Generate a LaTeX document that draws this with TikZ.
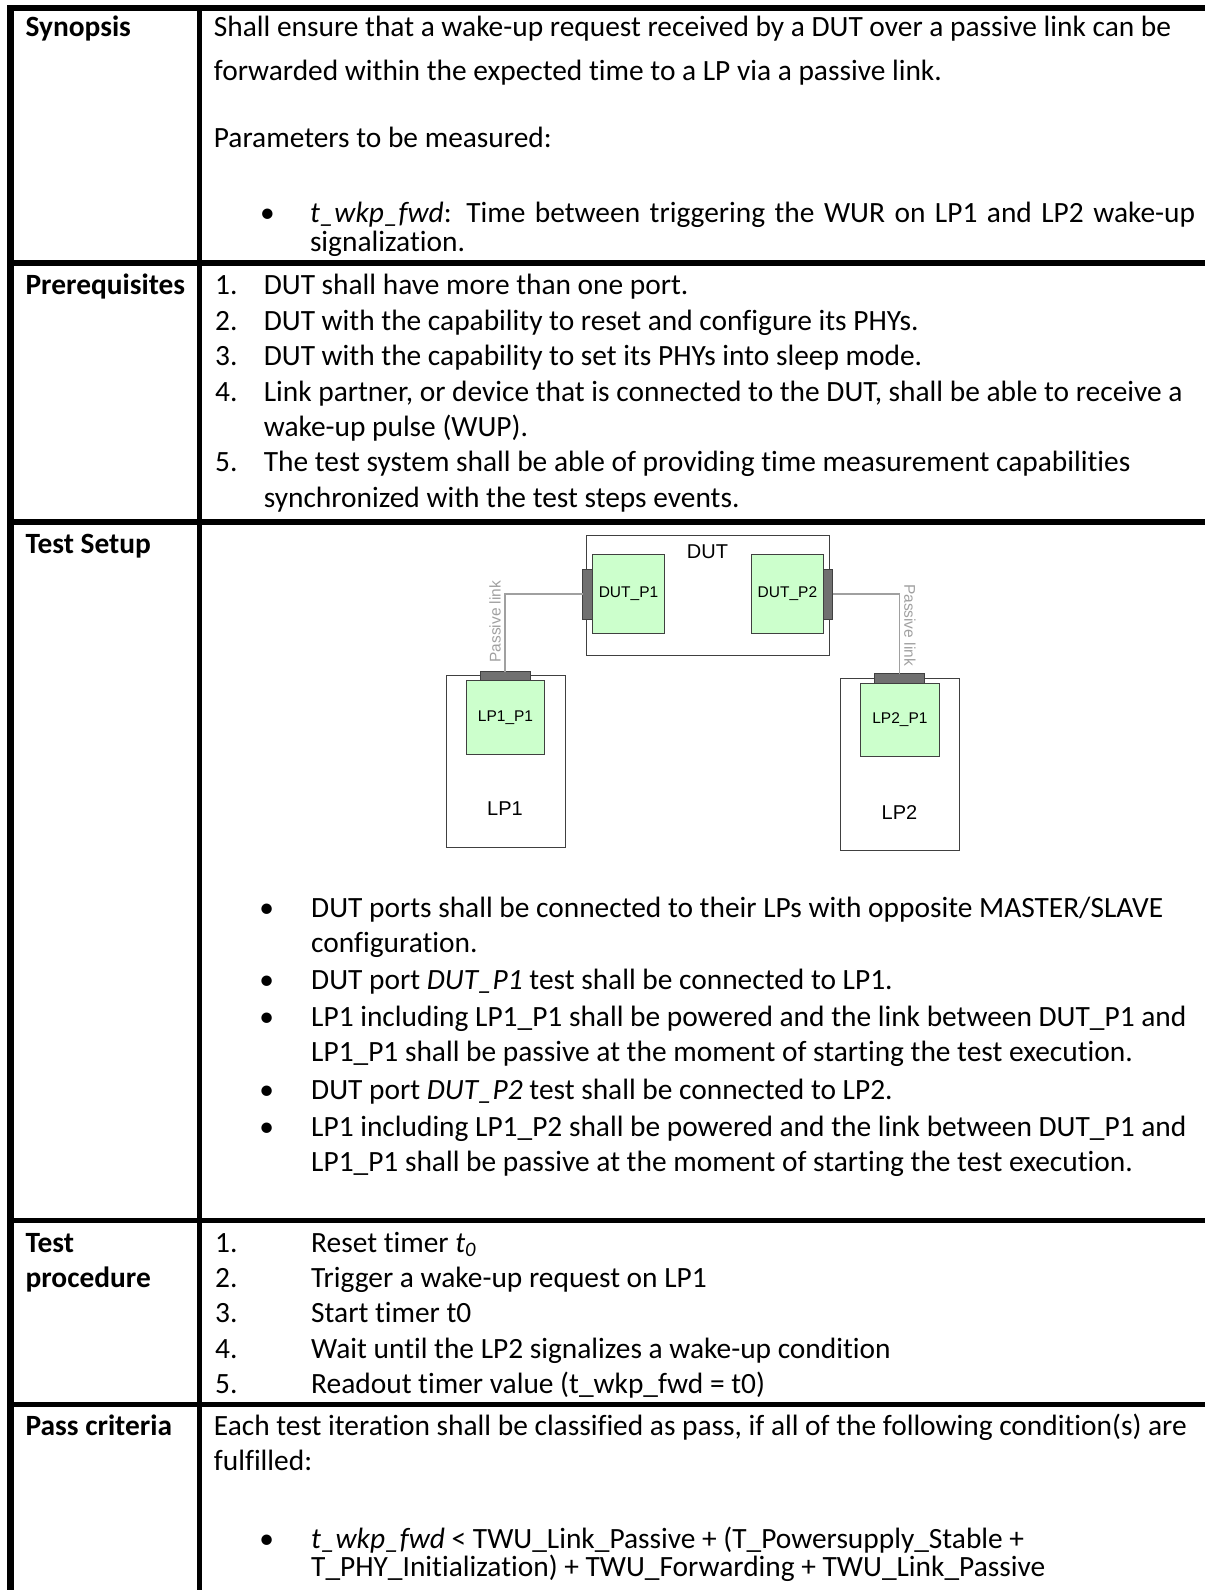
\documentclass[tikz,border=0pt]{standalone}
\usepackage{fontspec}
\setmainfont[Ligatures={NoCommon}]{Carlito}
\newfontfamily\diagfont{Liberation Sans}

\definecolor{portgreen}{HTML}{CCFFCC}
\definecolor{plugfill}{HTML}{707070}
\definecolor{linkgray}{HTML}{A0A0A0}
\definecolor{edgegray}{HTML}{404040}

\tikzset{
  rule/.style={line width=5.5pt},
  txt/.style={anchor=base west,inner sep=0pt,font=\fontsize{29.4}{35}\selectfont},
  rowhead/.style={txt,font=\fontsize{29.4}{35}\selectfont\bfseries},
  bul/.style={anchor=base,inner sep=0pt,font=\fontsize{29.4}{35}\selectfont},
  devbox/.style={draw=edgegray,line width=1pt,fill=white,inner sep=0pt,outer sep=0pt},
  portbox/.style={devbox,fill=portgreen,font=\diagfont\fontsize{15.5}{18}\selectfont},
  plug/.style={draw=edgegray,line width=1pt,fill=plugfill,inner sep=0pt,outer sep=0pt},
  link/.style={draw=linkgray,line width=1.5pt},
  linklbl/.style={text=linkgray,font=\diagfont\fontsize{15.5}{18}\selectfont,inner sep=0pt},
  devlbl/.style={font=\diagfont\fontsize{20}{24}\selectfont,inner sep=0pt}
}

\begin{document}
\begin{tikzpicture}[x=1pt,y=-1pt]
\useasboundingbox (0,0) rectangle (1205,1590);

% table rules
\draw[rule,line width=6.5pt] (10.7,5) -- (10.7,1590);
\draw[rule,line width=5pt] (199.2,5) -- (199.2,1590);
\foreach \y in {7.8,263,522,1220.5,1404.5}
  \draw[rule] (7.5,\y) -- (1205,\y);

% row heads
\node[rowhead] (hsyn) at (25.4,36.8) {Synopsis};
\node[rowhead] (hpre) at (25.4,294.6) {Prerequisites};
\node[rowhead] (hset) at (25.4,553) {Test Setup};
\node[rowhead] (hproc) at (25.4,1252) {Test};
\node[rowhead] (hproc2) at (25.4,1287.6) {procedure};
\node[rowhead] (hpass) at (25.4,1435) {Pass criteria};

% synopsis
\node[txt] (syn1) at (213.7,36.8) {Shall ensure that a wake-up request received by a DUT over a passive link can be};
\node[txt] (syn2) at (213.7,80.3) {forwarded within the expected time to a LP via a passive link.};
\node[txt] (syn3) at (213.7,147.3) {Parameters to be measured:};
\node[bul] (synb) at (267.5,222.6) {\textbullet};
\node[txt] (syn4) at (309.8,222.6) {\makebox[885pt][s]{\textit{t\_wkp\_fwd}: Time between triggering the WUR on LP1 and LP2 wake-up}};
\node[txt] (syn5) at (309.8,251) {signalization.};

% prerequisites
\node[txt] (pn1) at (215,294.6) {1.};
\node[txt] (pt1) at (263.6,294.6) {DUT shall have more than one port.};
\node[txt] (pn2) at (215,330) {2.};
\node[txt] (pt2) at (263.6,330) {DUT with the capability to reset and configure its PHYs.};
\node[txt] (pn3) at (215,365.5) {3.};
\node[txt] (pt3) at (263.6,365.5) {DUT with the capability to set its PHYs into sleep mode.};
\node[txt] (pn4) at (215,401) {4.};
\node[txt] (pt4) at (263.6,401) {Link partner, or device that is connected to the DUT, shall be able to receive a};
\node[txt] (pt4b) at (263.6,436.4) {wake-up pulse (WUP).};
\node[txt] (pn5) at (215,471.9) {5.};
\node[txt] (pt5) at (263.6,471.9) {The test system shall be able of providing time measurement capabilities};
\node[txt] (pt5b) at (263.6,507.3) {synchronized with the test steps events.};

% test setup drawing
\node[devbox,minimum width=242.7pt,minimum height=120pt] (dut) at (707.65,595) {};
\node[devlbl] (dutname) at (707.5,551.7) {DUT};
\node[portbox,minimum width=72.6pt,minimum height=79pt] (dutp1) at (628.5,593.8) {DUT\_P1};
\node[portbox,minimum width=72.3pt,minimum height=79pt] (dutp2) at (787.45,593.8) {DUT\_P2};
\node[plug,minimum width=9.3pt,minimum height=50.3pt] (plug1) at (587.55,594.15) {};
\node[plug,minimum width=8.9pt,minimum height=50.3pt] (plug2) at (828.05,594.15) {};

\node[devbox,minimum width=119pt,minimum height=171.6pt] (lp1) at (505.8,761.5) {};
\node[portbox,minimum width=78.4pt,minimum height=73.3pt] (lp1p1) at (505.5,717.35) {LP1\_P1};
\node[plug,minimum width=50pt,minimum height=9pt] (lp1c) at (505,676.2) {};
\node[devlbl] (lp1name) at (505,809) {LP1};

\node[devbox,minimum width=118.8pt,minimum height=171.7pt] (lp2) at (900.2,764.15) {};
\node[portbox,minimum width=78.2pt,minimum height=72.7pt] (lp2p1) at (899.9,719.65) {LP2\_P1};
\node[plug,minimum width=50pt,minimum height=9.6pt] (lp2c) at (899.5,678.5) {};
\node[devlbl] (lp2name) at (899.5,812.7) {LP2};

\draw[link] (plug1.west) -| (lp1c.north);
\draw[link] (plug2.east) -| (lp2c.north);
\node[linklbl,rotate=90] (pl1) at (495,621.7) {Passive link};
\node[linklbl,rotate=-90] (pl2) at (910,625) {Passive link};

% test setup notes
\node[bul] (sb1) at (266.8,917) {\textbullet};
\node[txt] (st1) at (311,917) {DUT ports shall be connected to their LPs with opposite MASTER/SLAVE};
\node[txt] (st1b) at (311,952) {configuration.};
\node[bul] (sb2) at (266.8,989) {\textbullet};
\node[txt] (st2) at (311,989) {DUT port \textit{DUT\_P1} test shall be connected to LP1.};
\node[bul] (sb3) at (266.8,1026) {\textbullet};
\node[txt] (st3) at (311,1026) {LP1 including LP1\_P1 shall be powered and the link between DUT\_P1 and};
\node[txt] (st3b) at (311,1061) {LP1\_P1 shall be passive at the moment of starting the test execution.};
\node[bul] (sb4) at (266.8,1099) {\textbullet};
\node[txt] (st4) at (311,1099) {DUT port \textit{DUT\_P2} test shall be connected to LP2.};
\node[bul] (sb5) at (266.8,1136) {\textbullet};
\node[txt] (st5) at (311,1136) {LP1 including LP1\_P2 shall be powered and the link between DUT\_P1 and};
\node[txt] (st5b) at (311,1171) {LP1\_P1 shall be passive at the moment of starting the test execution.};

% test procedure
\node[txt] (sn1) at (215,1252) {1.};
\node[txt] (sp1) at (311,1252) {Reset timer \textit{t\textsubscript{0}}};
\node[txt] (sn2) at (215,1287.4) {2.};
\node[txt] (sp2) at (311,1287.4) {Trigger a wake-up request on LP1};
\node[txt] (sn3) at (215,1322.8) {3.};
\node[txt] (sp3) at (311,1322.8) {Start timer t0};
\node[txt] (sn4) at (215,1358.2) {4.};
\node[txt] (sp4) at (311,1358.2) {Wait until the LP2 signalizes a wake-up condition};
\node[txt] (sn5) at (215,1393.6) {5.};
\node[txt] (sp5) at (311,1393.6) {Readout timer value (t\_wkp\_fwd = t0)};

% pass criteria
\node[txt] (pc1) at (213.7,1435) {Each test iteration shall be classified as pass, if all of the following condition(s) are};
\node[txt] (pc2) at (213.7,1470.5) {fulfilled:};
\node[bul] (pcb) at (266.8,1548.3) {\textbullet};
\node[txt] (pc3) at (311,1548.3) {\textit{t\_wkp\_fwd} < TWU\_Link\_Passive + (T\_Powersupply\_Stable +};
\node[txt] (pc4) at (311,1576.5) {T\_PHY\_Initialization) + TWU\_Forwarding + TWU\_Link\_Passive};

\end{tikzpicture}
\end{document}
